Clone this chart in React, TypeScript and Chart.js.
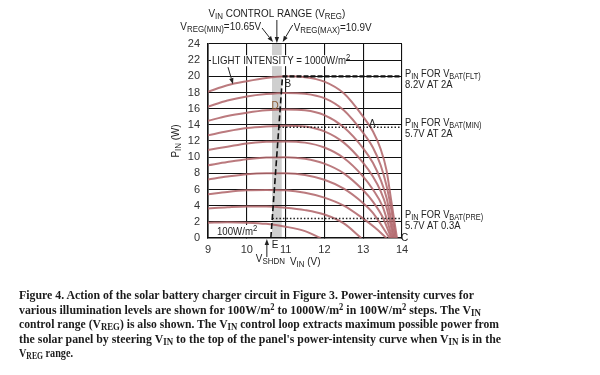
import React, { useEffect, useRef } from "react";
import { Chart, registerables } from "chart.js";
Chart.register(...registerables);

// ---------- data ----------
const intensityLabels = ["1000W/m²", "900W/m²", "800W/m²", "700W/m²", "600W/m²", "500W/m²", "400W/m²", "300W/m²", "200W/m²", "100W/m²"];

const v1000 = [9, 9.5, 10, 10.5, 11, 11.5, 12, 12.5, 13, 13.25, 13.45, 13.6, 13.72, 13.87];
const p1000 = [18.1, 18.9, 19.4, 19.8, 20.0, 19.9, 19.35, 17.9, 15.0, 13.2, 11.0, 8.4, 4.7, 0];
const v900 = [9, 9.5, 10, 10.5, 11, 11.5, 12, 12.5, 13, 13.25, 13.45, 13.6, 13.72, 13.84];
const p900 = [16.25, 17.0, 17.5, 17.8, 17.95, 17.85, 17.3, 15.8, 13.0, 11.2, 9.0, 6.5, 3.6, 0];
const v800 = [9, 9.5, 10, 10.5, 11, 11.5, 12, 12.5, 13, 13.25, 13.45, 13.6, 13.81];
const p800 = [14.5, 15.1, 15.5, 15.8, 15.9, 15.8, 15.2, 13.7, 11.1, 9.3, 7.2, 5.0, 0];
const v700 = [9, 9.5, 10, 10.5, 11, 11.5, 12, 12.5, 13, 13.25, 13.45, 13.6, 13.78];
const p700 = [12.7, 13.2, 13.6, 13.8, 13.9, 13.8, 13.2, 11.8, 9.3, 7.6, 5.8, 3.8, 0];
const v600 = [9, 9.5, 10, 10.5, 11, 11.5, 12, 12.5, 13, 13.25, 13.5, 13.75];
const p600 = [10.9, 11.3, 11.7, 11.9, 11.95, 11.8, 11.2, 9.9, 7.6, 6.0, 3.9, 0];
const v500 = [9, 9.5, 10, 10.5, 11, 11.5, 12, 12.5, 13, 13.25, 13.5, 13.72];
const p500 = [9.0, 9.4, 9.75, 9.95, 10.0, 9.8, 9.2, 8.0, 5.9, 4.5, 2.6, 0];
const v400 = [9, 9.5, 10, 10.5, 11, 11.5, 12, 12.5, 13, 13.25, 13.68];
const p400 = [7.25, 7.6, 7.9, 8.0, 8.0, 7.8, 7.2, 6.1, 4.3, 3.1, 0];
const v300 = [9, 9.5, 10, 10.5, 11, 11.5, 12, 12.5, 13, 13.3, 13.6];
const p300 = [5.4, 5.7, 5.9, 5.95, 5.9, 5.6, 5.0, 4.0, 2.4, 1.3, 0];
const v200 = [9, 9.5, 10, 10.5, 11, 11.5, 12, 12.5, 12.95];
const p200 = [3.65, 3.8, 3.9, 3.9, 3.75, 3.45, 2.9, 1.8, 0];
const v100 = [9, 9.5, 10, 10.5, 11, 11.5, 11.9];
const p100 = [1.9, 1.95, 1.9, 1.75, 1.4, 0.85, 0];

const curveV = [v1000, v900, v800, v700, v600, v500, v400, v300, v200, v100];
const curveP = [p1000, p900, p800, p700, p600, p500, p400, p300, p200, p100];

// V_REG control range and reference levels
const vregMin = 10.65;
const vregMax = 10.9;
const pMaxAxis = 24;
const trackV = [10.62, 10.92]; // E -> B trajectory
const trackP = [0, 20];
const pinFlt = 20;
const pinMin = 13.7;
const pinPre = 2.4;
const xTicks = [9, 10, 11, 12, 13, 14];
const yTicks = [0, 2, 4, 6, 8, 10, 12, 14, 16, 18, 20, 22, 24];

// ---------- drawing helpers ----------
const FAM = "'Liberation Sans', Arial, sans-serif";
type Part = [string, "n" | "b" | "p"];

function drawRich(
  ctx: CanvasRenderingContext2D,
  parts: Part[],
  x: number,
  y: number,
  size: number,
  align: "left" | "center" | "right" = "left",
  sx = 0.9,
  color = "#222"
) {
  ctx.save();
  const fontFor = (k: string) => `${k === "n" ? size : size * 0.8}px ${FAM}`;
  let w = 0;
  for (const [t, k] of parts) {
    ctx.font = fontFor(k);
    w += ctx.measureText(t).width;
  }
  const start = align === "center" ? x - (w * sx) / 2 : align === "right" ? x - w * sx : x;
  ctx.translate(start, y);
  ctx.scale(sx, 1);
  ctx.fillStyle = color;
  ctx.textBaseline = "alphabetic";
  ctx.textAlign = "left";
  let cx = 0;
  for (const [t, k] of parts) {
    ctx.font = fontFor(k);
    const dy = k === "b" ? size * 0.2 : k === "p" ? -size * 0.38 : 0;
    ctx.fillText(t, cx, dy);
    cx += ctx.measureText(t).width;
  }
  ctx.restore();
  return w * sx;
}

function arrow(ctx: CanvasRenderingContext2D, x1: number, y1: number, x2: number, y2: number) {
  ctx.save();
  ctx.strokeStyle = "#222";
  ctx.fillStyle = "#222";
  ctx.lineWidth = 1;
  const a = Math.atan2(y2 - y1, x2 - x1);
  const hl = 6, hw = 2.2;
  const bx = x2 - hl * Math.cos(a), by = y2 - hl * Math.sin(a);
  ctx.beginPath();
  ctx.moveTo(x1, y1);
  ctx.lineTo(bx, by);
  ctx.stroke();
  ctx.beginPath();
  ctx.moveTo(x2, y2);
  ctx.lineTo(bx + hw * Math.sin(a), by - hw * Math.cos(a));
  ctx.lineTo(bx - hw * Math.sin(a), by + hw * Math.cos(a));
  ctx.closePath();
  ctx.fill();
  ctx.restore();
}

const bandPlugin = {
  id: "band",
  beforeDraw(chart: any) {
    const { ctx, scales } = chart;
    const xs = scales.x, ys = scales.y;
    const l = xs.getPixelForValue(vregMin), r = xs.getPixelForValue(vregMax);
    const t = ys.getPixelForValue(pMaxAxis), b = ys.getPixelForValue(0);
    ctx.save();
    ctx.fillStyle = "#cfcfcf";
    ctx.fillRect(l, t, r - l, b - t);
    ctx.restore();
  },
};

const annotPlugin = {
  id: "annot",
  afterDraw(chart: any) {
    const { ctx, scales } = chart;
    const xs = scales.x, ys = scales.y;
    const X = (v: number) => xs.getPixelForValue(v);
    const Y = (p: number) => ys.getPixelForValue(p);
    const top = Y(pMaxAxis);
    const left = X(9), right = X(14), bottom = Y(0);

    // white label boxes
    ctx.save();
    ctx.fillStyle = "#fff";
    ctx.fillRect(left + 3, Y(22) - 5, 135, 11);
    ctx.fillRect(left + 6, bottom - 13, 44, 12);
    ctx.restore();

    drawRich(ctx, [["LIGHT INTENSITY = 1000W/m", "n"], ["2", "p"]], left + 4, Y(22) + 4, 10.5, "left", 0.92);
    arrow(ctx, left + 20, Y(22) + 7, left + 25, Y(p1000[1]) - 1);
    drawRich(ctx, [["100W/m", "n"], ["2", "p"]], left + 9, bottom - 3, 10.5, "left", 0.92);

    // top annotations
    const midBand = (X(vregMin) + X(vregMax)) / 2;
    drawRich(ctx, [["V", "n"], ["IN", "b"], [" CONTROL RANGE (V", "n"], ["REG", "b"], [")", "n"]], midBand, 17, 11, "center", 0.9);
    arrow(ctx, midBand, 20, midBand, top - 1);
    drawRich(ctx, [["V", "n"], ["REG(MIN)", "b"], ["=10.65V", "n"]], X(vregMin) - 11, 30, 11, "right", 0.9);
    arrow(ctx, X(vregMin) - 10, 28, X(vregMin) + 1, top - 2);
    drawRich(ctx, [["V", "n"], ["REG(MAX)", "b"], ["=10.9V", "n"]], X(vregMax) + 12, 31, 11, "left", 0.9);
    arrow(ctx, X(vregMax) + 11, 25, X(vregMax) + 1, top - 2);

    // letters
    drawRich(ctx, [["B", "n"]], X(trackV[1]) + 2, Y(trackP[1]) + 11, 10.5, "left", 0.95);
    drawRich(ctx, [["D", "n"]], X(vregMin) - 0.5, Y(p800[4]) + 0, 10.5, "left", 0.95, "#8a5a33");
    drawRich(ctx, [["A", "n"]], X(13.15), Y(pinMin) - 0.5, 10.5, "left", 0.95);
    drawRich(ctx, [["C", "n"]], right - 1, bottom + 3, 10.5, "left", 0.95);
    drawRich(ctx, [["E", "n"]], X(trackV[0]) + 1, bottom + 10, 10.5, "left", 0.95);
    arrow(ctx, X(trackV[0]) - 4, bottom + 19, X(trackV[0]) - 4, bottom + 1);
    drawRich(ctx, [["V", "n"], ["SHDN", "b"]], X(trackV[0]) - 15, bottom + 24, 11, "left", 0.9);

    // axis titles
    drawRich(ctx, [["V", "n"], ["IN", "b"], [" (V)", "n"]], 290, bottom + 27, 11, "left", 0.9);
    ctx.save();
    ctx.translate(178.5, 141);
    ctx.rotate(-Math.PI / 2);
    drawRich(ctx, [["P", "n"], ["IN", "b"], [" (W)", "n"]], 0, 0, 11, "center", 0.9);
    ctx.restore();

    // right-side labels
    const rx = right + 3;
    drawRich(ctx, [["P", "n"], ["IN", "b"], [" FOR V", "n"], ["BAT(FLT)", "b"]], rx, Y(pinFlt) + 1, 10.5, "left", 0.88);
    drawRich(ctx, [["8.2V AT 2A", "n"]], rx, Y(pinFlt) + 12, 10.5, "left", 0.9);
    drawRich(ctx, [["P", "n"], ["IN", "b"], [" FOR V", "n"], ["BAT(MIN)", "b"]], rx, Y(pinMin) - 1, 10.5, "left", 0.88);
    drawRich(ctx, [["5.7V AT 2A", "n"]], rx, Y(pinMin) + 10, 10.5, "left", 0.9);
    drawRich(ctx, [["P", "n"], ["IN", "b"], [" FOR V", "n"], ["BAT(PRE)", "b"]], rx, Y(pinPre) - 1, 10.5, "left", 0.88);
    drawRich(ctx, [["5.7V AT 0.3A", "n"]], rx, Y(pinPre) + 10, 10.5, "left", 0.9);
  },
};

// ---------- caption ----------
const captionTargets = [455, 462, 480, 482, 54];

function Caption() {
  const refs = useRef<(HTMLSpanElement | null)[]>([]);
  useEffect(() => {
    refs.current.forEach((el, i) => {
      if (!el) return;
      el.style.transform = "none";
      const w = el.getBoundingClientRect().width;
      if (w > 0) el.style.transform = `scaleX(${captionTargets[i] / w})`;
    });
  }, []);
  const sub = (t: string) => <sub style={{ fontSize: "0.75em", verticalAlign: "-0.22em", lineHeight: 0 }}>{t}</sub>;
  const sup = (t: string) => <sup style={{ fontSize: "0.72em", verticalAlign: "0.45em", lineHeight: 0 }}>{t}</sup>;
  const lines: React.ReactNode[] = [
    <>Figure 4. Action of the solar battery charger circuit in Figure 3. Power-intensity curves for</>,
    <>various illumination levels are shown for 100W/m{sup("2")} to 1000W/m{sup("2")} in 100W/m{sup("2")} steps. The V{sub("IN")}</>,
    <>control range (V{sub("REG")}) is also shown. The V{sub("IN")} control loop extracts maximum possible power from</>,
    <>the solar panel by steering V{sub("IN")} to the top of the panel's power-intensity curve when V{sub("IN")} is in the</>,
    <>V{sub("REG")} range.</>,
  ];
  return (
    <div style={{ position: "absolute", left: 19, top: 288, fontFamily: "'Liberation Serif', 'DejaVu Serif', serif", fontWeight: "bold", fontSize: 13, lineHeight: "14.6px", color: "#1b1b1b" }}>
      {lines.map((l, i) => (
        <div key={i} style={{ height: 14.6, whiteSpace: "nowrap" }}>
          <span ref={(el) => { refs.current[i] = el; }} style={{ display: "inline-block", transformOrigin: "0 0" }}>{l}</span>
        </div>
      ))}
    </div>
  );
}

export default function App() {
  const canvasRef = useRef<HTMLCanvasElement | null>(null);
  useEffect(() => {
    document.body.style.margin = "0";
    const canvas = canvasRef.current!;
    const curveSets = curveV.map((vs, i) => ({
      label: intensityLabels[i],
      data: vs.map((v, j) => ({ x: v, y: curveP[i][j] })),
      borderColor: "rgba(178, 104, 108, 0.88)",
      borderWidth: 2,
      pointRadius: 0,
      cubicInterpolationMode: "monotone" as const,
      fill: false,
    }));
    const refSets = [
      { label: "track", data: trackV.map((v, j) => ({ x: v, y: trackP[j] })), borderColor: "#111", borderWidth: 1.6, borderDash: [6, 3], pointRadius: 0, fill: false },
      { label: "flt", data: [{ x: trackV[1], y: pinFlt }, { x: 14, y: pinFlt }], borderColor: "#111", borderWidth: 2.2, borderDash: [5, 2], pointRadius: 0, fill: false },
      { label: "min", data: [{ x: 10.83, y: pinMin }, { x: 14, y: pinMin }], borderColor: "#222", borderWidth: 1.5, borderDash: [1.5, 2], pointRadius: 0, fill: false },
      { label: "pre", data: [{ x: 10.66, y: pinPre }, { x: 14, y: pinPre }], borderColor: "#222", borderWidth: 1.5, borderDash: [1.5, 2], pointRadius: 0, fill: false },
    ];
    const chart = new Chart(canvas, {
      type: "line",
      data: { datasets: [...refSets, ...curveSets] as any },
      options: {
        animation: false,
        responsive: false,
        devicePixelRatio: 1,
        layout: { padding: { left: 0, top: 44, right: 198, bottom: 117 } },
        plugins: { legend: { display: false }, tooltip: { enabled: false } },
        scales: {
          x: {
            type: "linear",
            min: 9,
            max: 14,
            afterFit: (s: any) => { s.height = 20; },
            afterBuildTicks: (s: any) => { s.ticks = xTicks.map((v) => ({ value: v })); },
            ticks: { color: "#333", autoSkip: false, maxRotation: 0, font: { family: "'Liberation Sans', Arial, sans-serif", size: 11 }, padding: 5 },
            grid: { color: "#111", lineWidth: 1.1, tickLength: 0 },
            border: { color: "#111", width: 1.6 },
          },
          y: {
            type: "linear",
            min: 0,
            max: pMaxAxis,
            afterFit: (s: any) => { s.width = 208; },
            afterBuildTicks: (s: any) => { s.ticks = yTicks.map((v) => ({ value: v })); },
            ticks: { color: "#333", autoSkip: false, font: { family: "'Liberation Sans', Arial, sans-serif", size: 11 }, padding: 8 },
            grid: { color: "#111", lineWidth: 1.1, tickLength: 0 },
            border: { color: "#111", width: 1.6 },
          },
        },
      },
      plugins: [bandPlugin, annotPlugin],
    });
    return () => chart.destroy();
  }, []);
  return (
    <div style={{ position: "absolute", left: 0, top: 0, width: 600, height: 375, background: "#fff" }}>
      <canvas ref={canvasRef} width={600} height={375} style={{ position: "absolute", left: 0, top: 0 }} />
      <Caption />
    </div>
  );
}
